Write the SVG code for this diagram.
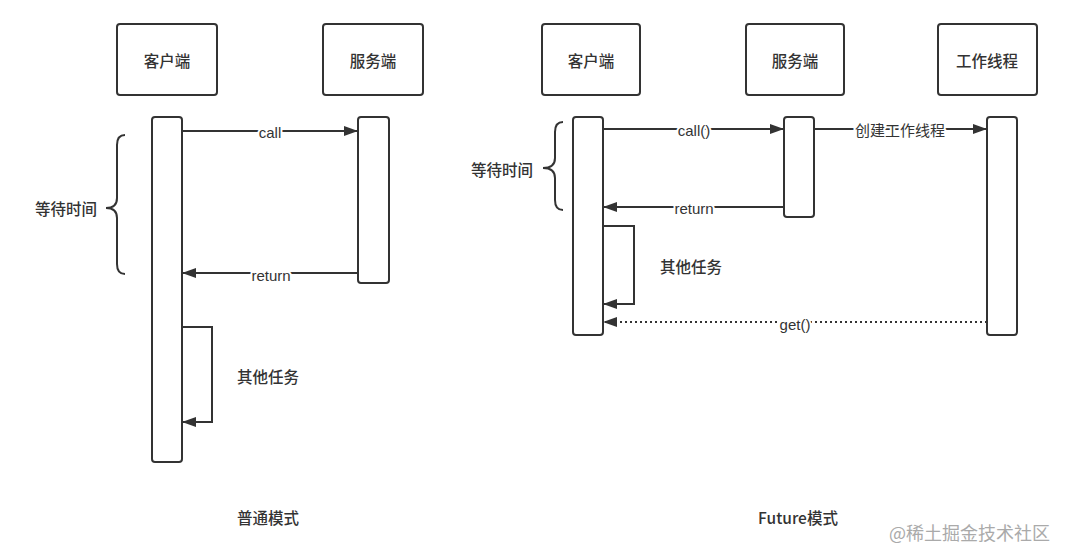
<svg xmlns="http://www.w3.org/2000/svg" width="1069" height="560" viewBox="0 0 1069 560">
<style>
.box{fill:#fff;stroke:#333;stroke-width:2}
.bar{fill:#fff;stroke:#333;stroke-width:2}
.t{font-family:"Noto Sans CJK SC","Liberation Sans",sans-serif;font-size:15.5px;font-weight:500;fill:#333;text-anchor:middle;dominant-baseline:central}
.lbl{font-family:"Liberation Sans","Noto Sans CJK SC",sans-serif;font-size:15px;fill:#333;text-anchor:middle;dominant-baseline:central;paint-order:stroke;stroke:#fff;stroke-width:4px;stroke-linejoin:round}
.ln{fill:none;stroke:#333;stroke-width:2}
.dot{fill:none;stroke:#333;stroke-width:2;stroke-dasharray:2 3}
.wm{font-family:"Noto Sans CJK SC",sans-serif;font-size:18px;fill:#aaa;text-anchor:start;dominant-baseline:central}
</style>
<defs>
<marker id="ah" markerWidth="14" markerHeight="10" refX="14" refY="5" orient="auto" markerUnits="userSpaceOnUse">
<path d="M0,0 L14,5 L0,10 Z" fill="#333"/>
</marker>
</defs>

<g id="left-client"><rect class="box" x="117" y="24" width="100" height="71" rx="3"/><text class="t" x="167" y="60">客户端</text></g>
<g id="left-server"><rect class="box" x="323" y="24" width="100" height="71" rx="3"/><text class="t" x="373" y="60">服务端</text></g>
<g id="left-client-bar"><rect class="bar" x="152" y="117" width="30" height="345" rx="3"/></g>
<g id="left-server-bar"><rect class="bar" x="358" y="117" width="31" height="166" rx="3"/></g>

<g id="right-client"><rect class="box" x="542" y="24" width="98" height="71" rx="3"/><text class="t" x="591" y="60">客户端</text></g>
<g id="right-server"><rect class="box" x="746" y="24" width="98" height="71" rx="3"/><text class="t" x="795" y="60">服务端</text></g>
<g id="right-worker"><rect class="box" x="938" y="24" width="99" height="71" rx="3"/><text class="t" x="987" y="60">工作线程</text></g>
<g id="right-client-bar"><rect class="bar" x="573" y="117" width="30" height="218" rx="3"/></g>
<g id="right-server-bar"><rect class="bar" x="784" y="117" width="30" height="100" rx="3"/></g>
<g id="right-worker-bar"><rect class="bar" x="987" y="117" width="30" height="218" rx="3"/></g>

<g id="connectors">
<line class="ln" x1="182" y1="131" x2="358" y2="131" marker-end="url(#ah)"/>
<text class="lbl" x="270" y="132">call</text>
<line class="ln" x1="358" y1="273" x2="182" y2="273" marker-end="url(#ah)"/>
<text class="lbl" x="271" y="275">return</text>
<path class="ln" d="M182,327 H212 V422 H182" marker-end="url(#ah)"/>

<line class="ln" x1="603" y1="129" x2="784" y2="129" marker-end="url(#ah)"/>
<text class="lbl" x="694" y="130">call()</text>
<line class="ln" x1="814" y1="129" x2="987" y2="129" marker-end="url(#ah)"/>
<text class="lbl" x="900" y="130">创建工作线程</text>
<line class="ln" x1="784" y1="207" x2="603" y2="207" marker-end="url(#ah)"/>
<text class="lbl" x="694" y="208">return</text>
<path class="ln" d="M603,226 H634 V304 H603" marker-end="url(#ah)"/>
<line class="dot" x1="987" y1="322" x2="603" y2="322" marker-end="url(#ah)"/>
<text class="lbl" x="795" y="324">get()</text>
</g>

<g id="left-brace">
<path class="ln" stroke-width="1.6" d="M125,135 Q117,135 117,145 V198 Q117,208 106,208 Q117,208 117,218 V264 Q117,274 125,274"/>
<text class="t" x="66" y="208">等待时间</text>
</g>
<g id="right-brace">
<path class="ln" stroke-width="1.6" d="M563,122 Q555,122 555,132 V158 Q555,168 543,168 Q555,168 555,178 V200 Q555,210 563,210"/>
<text class="t" x="502" y="169">等待时间</text>
</g>

<text class="t" x="268" y="376">其他任务</text>
<text class="t" x="691" y="266">其他任务</text>
<text class="t" x="268" y="517">普通模式</text>
<text class="t" x="798" y="517">Future模式</text>
<text class="wm" x="889" y="532">@稀土掘金技术社区</text>
</svg>
